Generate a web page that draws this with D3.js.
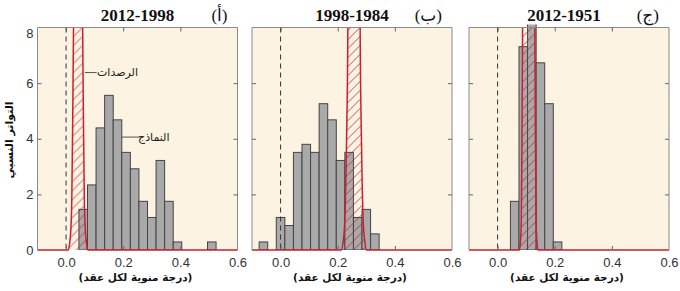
<!DOCTYPE html>
<html>
<head>
<meta charset="utf-8">
<script src="https://cdn.jsdelivr.net/npm/d3@7"></script>
<style>
  body { margin: 0; background: #fff; }
  .tick text { font-family: "Liberation Sans", Arial, sans-serif; font-size: 13px; fill: #333; }
  .ar { font-family: "DejaVu Sans", sans-serif; }
</style>
</head>
<body>
<div id="chart"></div>
<script>
// data (relative frequency, bin width 0.03)
const titles = ["2012-1998", "1998-1984", "2012-1951"];
const letters = ["(أ)", "(ب)", "(ج)"];
const xTicks = [0.0, 0.2, 0.4, 0.6];
const yTicks = [0, 2, 4, 6, 8];
const binWidth = 0.03;

const binsA = [0.06, 0.09, 0.12, 0.15, 0.18, 0.21, 0.24, 0.27, 0.30, 0.33, 0.36, 0.39, 0.51];
const freqA = [1.46, 2.34, 4.39, 5.56, 4.68, 3.51, 2.92, 1.75, 1.17, 3.22, 1.75, 0.29, 0.29];

const binsB = [-0.06, 0.00, 0.03, 0.06, 0.09, 0.12, 0.15, 0.18, 0.21, 0.24, 0.27, 0.30, 0.33];
const freqB = [0.29, 1.17, 0.88, 3.51, 3.80, 3.51, 5.26, 4.68, 3.22, 3.51, 1.17, 1.46, 0.58];

const binsC = [0.06, 0.09, 0.12, 0.15, 0.18, 0.21];
const freqC = [1.75, 7.31, 11.9, 6.73, 5.26, 0.29];

// observed distribution outlines (x, relative frequency), cut just above the top
const obsA = [[-0.1, 0], [0.008, 0], [0.012, 0.2], [0.017, 0.8], [0.020, 1.8], [0.0225, 4], [0.026, 8], [0.0265, 9],
              [0.0575, 9], [0.058, 8], [0.0615, 4], [0.064, 1.8], [0.067, 0.8], [0.072, 0.2], [0.076, 0], [0.6, 0]];
const obsB = [[-0.1, 0], [0.213, 0], [0.219, 0.3], [0.225, 1.1], [0.231, 4], [0.2355, 8], [0.236, 9],
              [0.278, 9], [0.2785, 8], [0.283, 4], [0.289, 1.1], [0.295, 0.3], [0.301, 0], [0.6, 0]];
const obsC = [[-0.1, 0], [0.077, 0], [0.080, 0.3], [0.083, 1], [0.0855, 4], [0.0875, 8], [0.088, 9],
              [0.130, 9], [0.1305, 8], [0.1325, 4], [0.135, 1], [0.138, 0.3], [0.141, 0], [0.6, 0]];

const panels = [
  {bins: binsA, freq: freqA, obs: obsA},
  {bins: binsB, freq: freqB, obs: obsB},
  {bins: binsC, freq: freqC, obs: obsC}
];

// layout
const W = 680, H = 291;
const lefts = [37.5, 252, 469];
const plotTop = 27.5, pw = 200, ph = 222.5;
const red = "#c8202f";

const svg = d3.select("#chart").append("svg")
    .attr("width", W).attr("height", H);

const defs = svg.append("defs");
defs.append("pattern")
    .attr("id", "hatch")
    .attr("patternUnits", "userSpaceOnUse")
    .attr("width", 9).attr("height", 9)
  .append("path")
    .attr("d", "M-1,1 l2,-2 M0,9 l9,-9 M8,10 l2,-2")
    .attr("stroke", red).attr("stroke-width", 0.8);

const x = d3.scaleLinear().domain([-0.1, 0.6]).range([0, pw]);
const y = d3.scaleLinear().domain([0, 8]).range([ph, 0]);

panels.forEach(function(p, i) {
  const g = svg.append("g").attr("transform", `translate(${lefts[i]},${plotTop})`);

  defs.append("clipPath").attr("id", "clipBars" + i)
    .append("rect").attr("x", 0).attr("y", -3).attr("width", pw).attr("height", ph + 3);
  defs.append("clipPath").attr("id", "clipObs" + i)
    .append("rect").attr("x", -1).attr("y", 0).attr("width", pw + 2).attr("height", ph + 3);

  g.append("rect")
    .attr("width", pw).attr("height", ph)
    .attr("fill", "#fcf3e2");

  // model histogram
  g.append("g").attr("clip-path", `url(#clipBars${i})`)
    .selectAll("rect")
    .data(p.bins.map((b, k) => ({b: b, v: p.freq[k]})))
    .enter().append("rect")
      .attr("x", d => x(d.b - binWidth / 2))
      .attr("y", d => y(d.v))
      .attr("width", d => x(d.b + binWidth / 2) - x(d.b - binWidth / 2))
      .attr("height", d => y(0) - y(d.v))
      .attr("fill", "#a9a9a9")
      .attr("stroke", "#444")
      .attr("stroke-width", 1);

  // zero line
  g.append("line")
    .attr("x1", x(0)).attr("x2", x(0))
    .attr("y1", 0).attr("y2", ph)
    .attr("stroke", "#333").attr("stroke-width", 1)
    .attr("stroke-dasharray", "5,4");

  // observations
  const line = d3.line().x(d => x(d[0])).y(d => y(d[1])).curve(d3.curveMonotoneX);
  const og = g.append("g").attr("clip-path", `url(#clipObs${i})`);
  og.append("path")
    .attr("d", line(p.obs))
    .attr("fill", "url(#hatch)")
    .attr("stroke", "none");

  // frame (bottom is drawn by the red line)
  g.append("path")
    .attr("d", `M0,${ph}V0H${pw}V${ph}`)
    .attr("fill", "none")
    .attr("stroke", "#8a8a8a").attr("stroke-width", 1);

  og.append("path")
    .attr("d", line(p.obs))
    .attr("fill", "none")
    .attr("stroke", red).attr("stroke-width", 1.5);

  // ticks
  const innerX = [0, 0.2, 0.4];
  const innerY = [2, 4, 6];
  g.append("g")
    .attr("transform", `translate(0,${ph})`)
    .call(d3.axisBottom(x).tickValues(xTicks).tickFormat(d3.format(".1f"))
      .tickSize(0).tickPadding(8))
    .call(s => s.select(".domain").remove());
  g.append("g").attr("transform", `translate(0,${ph})`)
    .call(d3.axisBottom(x).tickValues(innerX).tickFormat("").tickSizeInner(-4).tickSizeOuter(0))
    .call(s => s.select(".domain").remove())
    .selectAll("line").attr("stroke", "#666");
  g.append("g")
    .call(d3.axisTop(x).tickValues(innerX).tickFormat("").tickSizeInner(-4).tickSizeOuter(0))
    .call(s => s.select(".domain").remove())
    .selectAll("line").attr("stroke", "#666");
  g.append("g")
    .call(d3.axisLeft(y).tickValues(innerY).tickFormat("").tickSizeInner(-4).tickSizeOuter(0))
    .call(s => s.select(".domain").remove())
    .selectAll("line").attr("stroke", "#666");
  g.append("g").attr("transform", `translate(${pw},0)`)
    .call(d3.axisRight(y).tickValues(innerY).tickFormat("").tickSizeInner(-4).tickSizeOuter(0))
    .call(s => s.select(".domain").remove())
    .selectAll("line").attr("stroke", "#666");

  if (i === 0) {
    g.append("g")
      .call(d3.axisLeft(y).tickValues(yTicks).tickFormat(d3.format("d")).tickSize(0).tickPadding(4))
      .call(s => s.select(".domain").remove())
      .selectAll("text").attr("dy", d => d === 8 ? "0.75em" : "0.32em");
  }

  // titles
  svg.append("text")
    .attr("x", lefts[i] + pw / 2 - (i === 2 ? 5 : 0)).attr("y", 21)
    .attr("text-anchor", "middle")
    .style("font-family", "'Liberation Serif', serif")
    .style("font-weight", "bold").style("font-size", "17px")
    .attr("fill", "#111")
    .text(titles[i]);
  svg.append("text")
    .attr("x", lefts[i] + pw - 10).attr("y", 21)
    .attr("text-anchor", "end")
    .style("font-family", "'Liberation Serif', 'DejaVu Sans', serif")
    .style("font-size", "17px")
    .attr("fill", "#111")
    .text(letters[i]);

  // x label
  svg.append("text")
    .attr("x", lefts[i] + pw / 2 - 2).attr("y", 281)
    .attr("text-anchor", "middle")
    .attr("class", "ar")
    .style("font-weight", "bold").style("font-size", "10.5px")
    .attr("fill", "#111")
    .text("(درجة منوية لكل عقد)");

  if (i === 0) {
    // annotations
    const notes = [
      {text: "الرصدات", x1: 0.066, x2: 0.107, tx: 0.18, y: 6.38},
      {text: "النماذج", x1: 0.195, x2: 0.258, tx: 0.307, y: 4.06}
    ];
    notes.forEach(function(n) {
      g.append("line")
        .attr("x1", x(n.x1)).attr("x2", x(n.x2))
        .attr("y1", y(n.y)).attr("y2", y(n.y))
        .attr("stroke", "#555").attr("stroke-width", 1);
      g.append("text")
        .attr("x", x(n.tx)).attr("y", y(n.y)).attr("dy", "0.35em")
        .attr("text-anchor", "middle")
        .attr("class", "ar")
        .style("font-size", "11px")
        .attr("fill", "#222")
        .text(n.text);
    });
  }
});

// y label
svg.append("text")
  .attr("transform", "translate(13,140) rotate(-90)")
  .attr("text-anchor", "middle")
  .attr("class", "ar")
  .style("font-weight", "bold").style("font-size", "11px")
  .attr("fill", "#111")
  .text("التواتر النسبي");
</script>
</body>
</html>
